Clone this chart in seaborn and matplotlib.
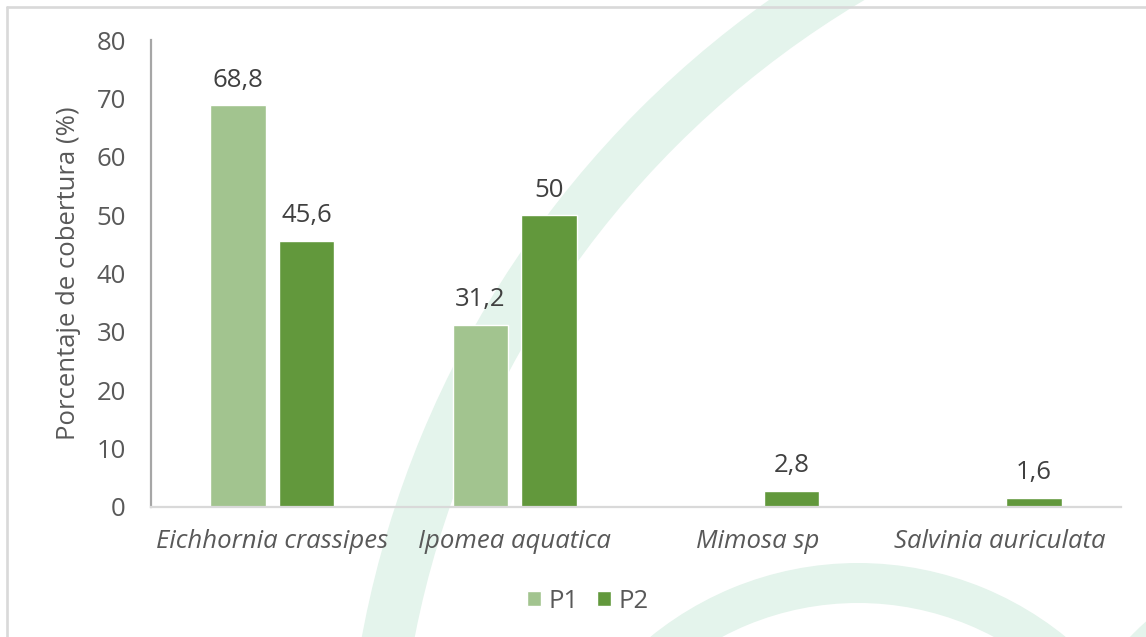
import matplotlib
matplotlib.use("Agg")
import matplotlib.pyplot as plt
import matplotlib.transforms as mtransforms
from matplotlib.patches import Wedge
from matplotlib.lines import Line2D
import numpy as np
import pandas as pd
import seaborn as sns

# Cobertura de macrófitas por especie y punto de muestreo
especies = ["Eichhornia crassipes", "Ipomea aquatica", "Mimosa sp", "Salvinia auriculata"]
p1 = [68.8, 31.2, np.nan, np.nan]
p2 = [45.6, 50.0, 2.8, 1.6]
puntos = ["P1", "P2"]
yticks = [0, 10, 20, 30, 40, 50, 60, 70, 80]

colores = {"P1": "#a2c48f", "P2": "#62983c"}
gris_texto = "#595959"
gris_valor = "#404040"
fs = 18.5

df = pd.DataFrame({
    "Especie": especies * 2,
    "Punto": ["P1"] * len(especies) + ["P2"] * len(especies),
    "Cobertura": p1 + p2,
})

sns.set_theme(style="white")
plt.rcParams["font.family"] = ["Open Sans", "DejaVu Sans"]

W, H = 1146, 637
fig = plt.figure(figsize=(W / 100, H / 100), dpi=100)
fig.patch.set_facecolor("white")

# pixel coordinates with origin at top-left
px = mtransforms.Affine2D().scale(1 / W, -1 / H).translate(0, 1) + fig.transFigure

# decorative background rings
fondo = "#e4f4ec"
anillos = [
    ((1350, 820), 1005, 52),
    ((858, 892), 329, 40),
    ((1400, 900), 377, 40),
]
for (cx, cy), r, w in anillos:
    fig.patches.append(Wedge((cx, cy), r, 0, 360, width=w, transform=px,
                             facecolor=fondo, edgecolor="none", zorder=-5))

# outer frame (top and left edges)
fig.lines.append(Line2D([7, 7], [637, 7], transform=px, color="#d9d9d9", lw=1.9, zorder=-4))
fig.lines.append(Line2D([7, 1146], [7, 7], transform=px, color="#d9d9d9", lw=1.9, zorder=-4))

ax = fig.add_axes([151 / W, (H - 507) / H, (1121 - 151) / W, (507 - 40) / H])
ax.patch.set_alpha(0)

sns.barplot(data=df, x="Especie", y="Cobertura", hue="Punto", order=especies,
            hue_order=puntos, palette=colores, width=0.565, gap=0.195,
            saturation=1, ax=ax, legend=True)

def fmt(v):
    if np.isnan(v):
        return ""
    return (f"{v:g}").replace(".", ",")

for cont in ax.containers:
    vals = cont.datavalues
    ax.bar_label(cont, labels=[fmt(v) for v in vals], padding=9,
                 fontsize=fs, color=gris_valor)

ax.set_ylim(0, 80)
ax.set_xlim(-0.5, len(especies) - 0.5)
ax.set_yticks(yticks)
ax.set_yticklabels([str(t) for t in yticks])
ax.tick_params(axis="y", length=0, pad=18, labelsize=fs, labelcolor=gris_texto)
ax.tick_params(axis="x", length=0, pad=16, labelsize=fs, labelcolor=gris_texto)
for lab in ax.get_xticklabels():
    lab.set_fontstyle("italic")
ax.set_xlabel("")
ax.set_ylabel("Porcentaje de cobertura (%)", fontsize=fs, color=gris_texto, labelpad=11)

for s in ["top", "right"]:
    ax.spines[s].set_visible(False)
ax.spines["left"].set_color("#a6a6a6")
ax.spines["left"].set_linewidth(1.6)
ax.spines["bottom"].set_color("#d9d9d9")
ax.spines["bottom"].set_linewidth(1.6)

handles, labels = ax.get_legend_handles_labels()
ax.get_legend().remove()
leg = fig.legend(handles, labels, loc="center", bbox_to_anchor=(588, 601),
                 bbox_transform=px, ncol=2, frameon=False, fontsize=fs,
                 handlelength=0.55, handleheight=0.55, handletextpad=0.3,
                 columnspacing=0.7, borderaxespad=0)
for t in leg.get_texts():
    t.set_color(gris_texto)

fig.savefig("out.png", dpi=100, facecolor="white")
